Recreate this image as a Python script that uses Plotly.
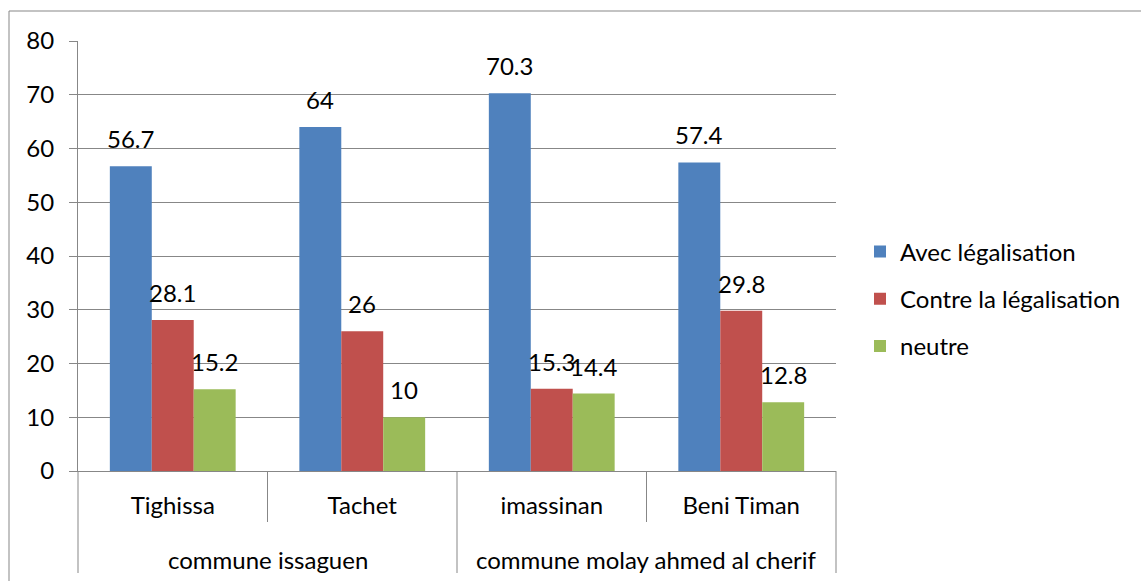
import plotly.graph_objects as go

# Survey results per locality, grouped by commune
localities = ["Tighissa", "Tachet", "imassinan", "Beni Timan"]
communes = ["commune issaguen", "commune molay ahmed al cherif"]
localities_per_commune = [2, 2]

series_names = ["Avec légalisation", "Contre la légalisation", "neutre"]
avec = [56.7, 64, 70.3, 57.4]
contre = [28.1, 26, 15.3, 29.8]
neutre = [15.2, 10, 14.4, 12.8]
colors = ["#4F81BD", "#C0504D", "#9BBB59"]

y_ticks = [0, 10, 20, 30, 40, 50, 60, 70, 80]

FONT = "Lato, Calibri, Arial, sans-serif"
GRID = "#878787"
FS = 24

W, H = 1141, 581
L, R, T, B = 78, 305, 41, 110
pw = W - L - R
ph = H - T - B
BARGAP = 0.336

all_series = [avec, contre, neutre]

fig = go.Figure()
for name, vals, col in zip(series_names, all_series, colors):
    fig.add_trace(go.Bar(
        x=localities,
        y=vals,
        name=name,
        legendgroup=name,
        marker=dict(color=col, line=dict(width=0)),
    ))

# value labels above each bar, shifted sideways to sit over their bar
n_cat = len(localities)
n_ser = len(all_series)
bar_px = pw / n_cat * (1 - BARGAP) / n_ser
annotations = []
for i, vals in enumerate(all_series):
    for loc, v in zip(localities, vals):
        annotations.append(dict(
            x=loc, y=v, xref="x", yref="y", text=f"{v:g}", showarrow=False,
            xanchor="center", yanchor="bottom",
            xshift=(i - (n_ser - 1) / 2) * bar_px, yshift=11,
            font=dict(family=FONT, size=FS, color="black")))

# commune labels under their localities
shapes = [
    # outer chart frame
    dict(type="rect", xref="paper", yref="paper",
         x0=(9 - L) / pw, x1=2, y0=-2, y1=(H - B - 11) / ph,
         line=dict(color=GRID, width=1), fillcolor="rgba(0,0,0,0)", layer="below"),
]
start = 0
inner_depth = 51 / ph
outer_depth = 102 / ph
shapes.append(dict(type="line", xref="paper", yref="paper", x0=0, x1=0,
                   y0=0, y1=-outer_depth, line=dict(color=GRID, width=1)))
for commune, count in zip(communes, localities_per_commune):
    end = start + count
    annotations.append(dict(
        x=(start + end) / 2 / n_cat, y=-88 / ph, xref="paper", yref="paper",
        text=commune, showarrow=False, xanchor="center", yanchor="middle",
        font=dict(family=FONT, size=FS, color="black")))
    for k in range(start + 1, end):
        shapes.append(dict(type="line", xref="paper", yref="paper",
                           x0=k / n_cat, x1=k / n_cat, y0=0, y1=-inner_depth,
                           line=dict(color=GRID, width=1)))
    shapes.append(dict(type="line", xref="paper", yref="paper",
                       x0=end / n_cat, x1=end / n_cat, y0=0, y1=-outer_depth,
                       line=dict(color=GRID, width=1)))
    start = end

fig.update_layout(
    width=W, height=H,
    margin=dict(l=L, r=R, t=T, b=B, pad=0),
    paper_bgcolor="white", plot_bgcolor="white",
    barmode="group", bargap=BARGAP, bargroupgap=0,
    font=dict(family=FONT, size=FS, color="black"),
    showlegend=True,
    legend=dict(x=(860 - L) / pw, xanchor="left", y=0.4, yanchor="middle",
                font=dict(family=FONT, size=FS, color="black"),
                tracegroupgap=13, bgcolor="rgba(0,0,0,0)"),
    shapes=shapes,
    annotations=annotations,
    xaxis=dict(type="category", showline=True, linecolor=GRID, linewidth=1,
               ticks="", showgrid=False, ticklabelstandoff=13,
               tickfont=dict(family=FONT, size=FS, color="black")),
    yaxis=dict(range=[0, 80], tickvals=y_ticks, showgrid=True, gridcolor=GRID,
               gridwidth=1, zeroline=False, showline=True, linecolor=GRID,
               ticks="outside", ticklen=8, tickcolor=GRID, ticklabelstandoff=10,
               tickfont=dict(family=FONT, size=FS, color="black")),
)

fig.write_html("out.html")
